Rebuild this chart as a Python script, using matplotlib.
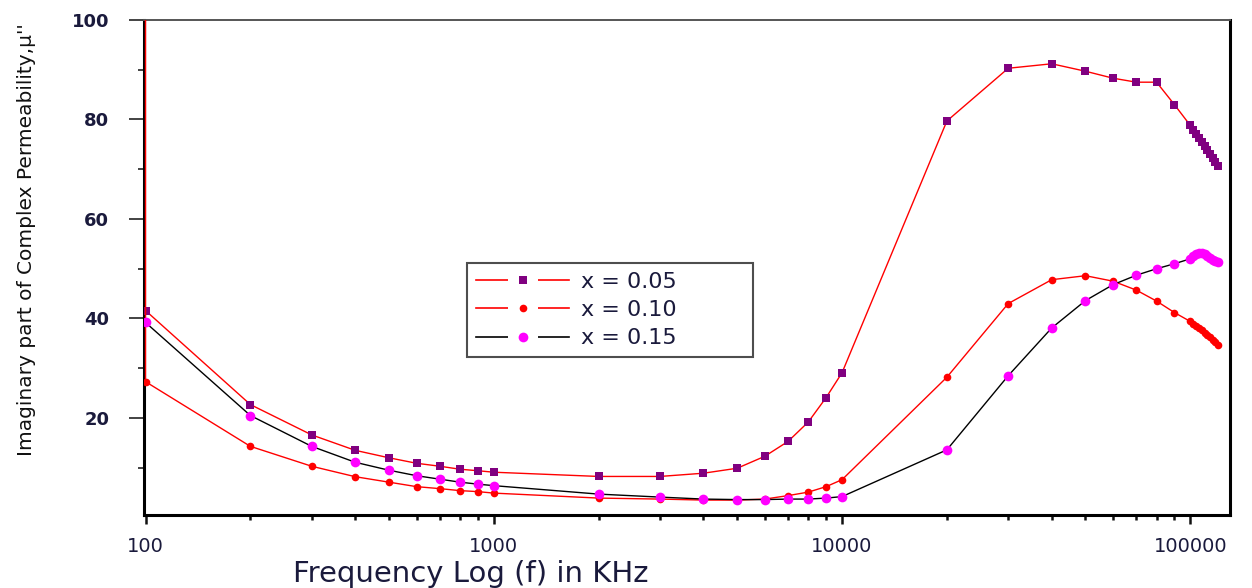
import matplotlib
matplotlib.use("Agg")
import matplotlib.pyplot as plt
from matplotlib.lines import Line2D
from matplotlib.legend_handler import HandlerTuple
from matplotlib.ticker import LogLocator, NullFormatter

# ---------------- data ----------------
freq = [100, 200, 300, 400, 500, 600, 700, 800, 900, 1000,
        2000, 3000, 4000, 5000, 6000, 7000, 8000, 9000, 10000,
        20000, 30000, 40000, 50000, 60000, 70000, 80000, 90000,
        100000, 102000, 104000, 106000, 108000, 110000,
        112000, 114000, 116000, 118000, 120000]

mu_005 = [41.6, 22.7, 16.6, 13.5, 12.0, 10.9, 10.3, 9.7, 9.4, 9.1,
          8.25, 8.25, 8.9, 9.9, 12.3, 15.3, 19.2, 24.1, 29.1,
          79.7, 90.3, 91.2, 89.7, 88.3, 87.5, 87.5, 83.0,
          78.8, 77.9, 77.1, 76.3, 75.5, 74.6,
          73.8, 73.0, 72.2, 71.4, 70.6]

# first entry is the off-scale reading at 100 kHz (drawn as the vertical red line)
freq_010 = [100] + freq
mu_010 = [150.0,
          27.3, 14.3, 10.3, 8.2, 7.1, 6.2, 5.8, 5.4, 5.2, 4.9,
          3.9, 3.7, 3.5, 3.5, 3.7, 4.4, 5.1, 6.2, 7.6,
          28.2, 43.0, 47.8, 48.6, 47.5, 45.7, 43.5, 41.2,
          39.4, 38.9, 38.5, 38.0, 37.6, 37.1,
          36.6, 36.2, 35.7, 35.2, 34.7]

mu_015 = [39.2, 20.5, 14.3, 11.1, 9.5, 8.4, 7.7, 7.1, 6.7, 6.4,
          4.7, 4.1, 3.7, 3.6, 3.6, 3.7, 3.7, 3.9, 4.2,
          13.6, 28.5, 38.1, 43.6, 46.8, 48.7, 50.0, 51.0,
          52.0, 52.5, 52.9, 53.1, 53.1, 52.9,
          52.5, 52.1, 51.8, 51.5, 51.3]

labels = ["x = 0.05", "x = 0.10", "x = 0.15"]
x_major = [100, 1000, 10000, 100000]
x_major_labels = ["100", "1000", "10000", "100000"]
y_major = [20, 40, 60, 80, 100]
y_minor = [10, 30, 50, 70, 90]

# ---------------- figure ----------------
W, H = 1252, 588
plt.rcParams["font.family"] = ["DejaVu Sans"]
fig = plt.figure(figsize=(W / 100, H / 100), dpi=100)
ax = fig.add_axes([144 / W, 1 - 515 / H, (1230 - 144) / W, (515 - 20) / H])

txt_col = "#1a1a3c"

l1, = ax.plot(freq, mu_005, color="#ff0000", lw=1.0, marker="s", ms=5.8,
              mfc="#800080", mec="#800080", mew=0, zorder=3)
l2, = ax.plot(freq_010, mu_010, color="#ff0000", lw=1.0, marker="o", ms=5.5,
              mfc="#ff0000", mec="#ff0000", mew=0, zorder=3)
l3, = ax.plot(freq, mu_015, color="#000000", lw=1.0, marker="o", ms=7,
              mfc="#ff00ff", mec="#ff00ff", mew=0, zorder=3)

ax.set_xscale("log")
ax.set_xlim(99, 1.3e5)
ax.set_ylim(0.5, 100)

ax.set_xticks(x_major)
ax.set_xticklabels(x_major_labels)
ax.xaxis.set_minor_locator(LogLocator(base=10, subs=range(2, 10)))
ax.xaxis.set_minor_formatter(NullFormatter())
ax.set_yticks(y_major)
ax.set_yticks(y_minor, minor=True)

ax.tick_params(axis="x", which="major", direction="out", length=6.5, width=1.8,
               pad=9, labelsize=14, colors="#111111", labelcolor=txt_col)
ax.tick_params(axis="x", which="minor", direction="out", length=3.5, width=1.8,
               colors="#111111")
ax.tick_params(axis="y", which="major", direction="out", length=11, width=1.2,
               pad=14, labelsize=13, colors="#222222", labelcolor=txt_col)
ax.tick_params(axis="y", which="minor", direction="out", length=4.5, width=1.2,
               colors="#222222")
for t in ax.get_yticklabels():
    t.set_fontweight("bold")

for side in ["left", "bottom", "right"]:
    ax.spines[side].set_color("#000000")
    ax.spines[side].set_linewidth(2.2)
ax.spines["top"].set_color("#555555")
ax.spines["top"].set_linewidth(1.4)

fig.text(471 / W, 1 - 574 / H, "Frequency Log (f) in KHz", ha="center",
         va="center", fontsize=21, color=txt_col)
fig.text(27 / W, 1 - 240 / H, "Imaginary part of Complex Permeability,\u03bc''",
         ha="center", va="center", rotation=90, fontsize=14.5, color="#111111")

# legend with Origin-like gaps around the symbols
def handle(line_color, marker, ms, mcol):
    base = Line2D([], [], color=line_color, lw=1.2)
    gap = Line2D([], [], ls="none", marker="s", ms=22, mfc="white", mec="white", mew=0)
    sym = Line2D([], [], ls="none", marker=marker, ms=ms, mfc=mcol, mec=mcol, mew=0)
    return (base, gap, sym)

handles = [handle("#ff0000", "s", 5.8, "#800080"),
           handle("#ff0000", "o", 5.5, "#ff0000"),
           handle("#000000", "o", 7, "#ff00ff")]
leg = fig.legend(handles, labels, loc="upper left",
                 bbox_to_anchor=(467 / W, 1 - 356 / H, (753 - 467) / W, (356 - 263) / H),
                 mode="expand", fontsize=16, frameon=True, fancybox=False,
                 edgecolor="#222222", handlelength=4.2, handletextpad=0.55,
                 labelspacing=0.37, borderpad=0.4, borderaxespad=0,
                 handler_map={tuple: HandlerTuple(ndivide=1, pad=0)})
leg.get_frame().set_linewidth(1.5)
for t in leg.get_texts():
    t.set_color(txt_col)

fig.savefig("out.png", dpi=100)
